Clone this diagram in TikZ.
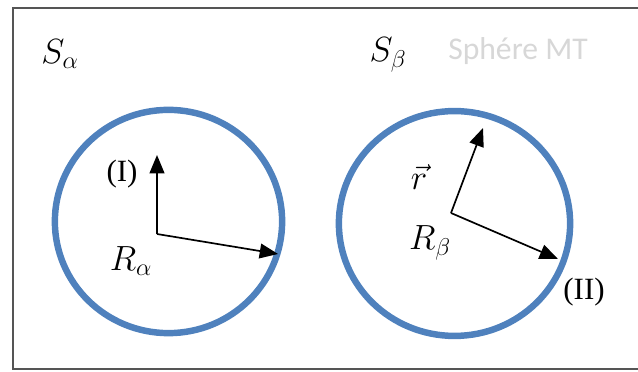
\documentclass[tikz,border=0pt]{standalone}
\definecolor{sphereblue}{RGB}{79,129,189}
\definecolor{framegray}{RGB}{85,85,85}
\definecolor{notegray}{RGB}{215,215,215}
\usepackage{fontspec}
\setmainfont{Liberation Serif}
\newfontfamily\notefont{Carlito}
\usetikzlibrary{arrows.meta}

\begin{document}
\begin{tikzpicture}[
  x=0.025cm, y=-0.025cm,
  sphere/.style={draw=sphereblue, line width=4.6pt},
  vec/.style={-{Triangle[length=13pt, width=10.5pt]}, line width=1.2pt},
  sym/.style={font=\fontsize{24}{28}\selectfont, inner sep=0pt},
  roman/.style={font=\fontsize{22}{26}\selectfont, inner sep=0pt}
]
  \useasboundingbox (0,0) rectangle (638,372);

  % Frame
  \draw[framegray, line width=1.3pt] (638,8) -- (13,8) -- (13,369) -- (638,369);

  % Sphere alpha
  \coordinate (ca) at (168.5,221.5);
  \draw[sphere] (ca) circle[x radius=2.84cm, y radius=2.79cm];
  \coordinate (oa) at (157,234);
  \coordinate (ta1) at (157,155);
  \coordinate (ta2) at (278,254);
  \draw[vec] (oa) -- (ta1);
  \draw[vec] (oa) -- (ta2);

  % Sphere beta
  \coordinate (cb) at (454.5,223.5);
  \draw[sphere] (cb) circle[x radius=2.89cm, y radius=2.81cm];
  \coordinate (ob) at (451,213);
  \coordinate (tb1) at (483,128);
  \coordinate (tb2) at (558,259);
  \draw[vec] (ob) -- (tb1);
  \draw[vec] (ob) -- (tb2);

  % Labels
  \node[sym] (salpha) at (60,54) {$S_\alpha$};
  \node[sym] (sbeta) at (388,55) {$S_\beta$};
  \node[font=\notefont\fontsize{22.5}{26}\selectfont, text=notegray,
        inner sep=0pt, anchor=base] (note) at (518,60) {Sphére MT};
  \node[roman] (one) at (122,174) {(I)};
  \node[sym] (ralpha) at (131,261) {$R_\alpha$};
  \node[sym] (rvec) at (419,177) {$\vec{r}$};
  \node[sym] (rbeta) at (430,243) {$R_\beta$};
  \node[roman] (two) at (584,292) {(II)};
\end{tikzpicture}
\end{document}
